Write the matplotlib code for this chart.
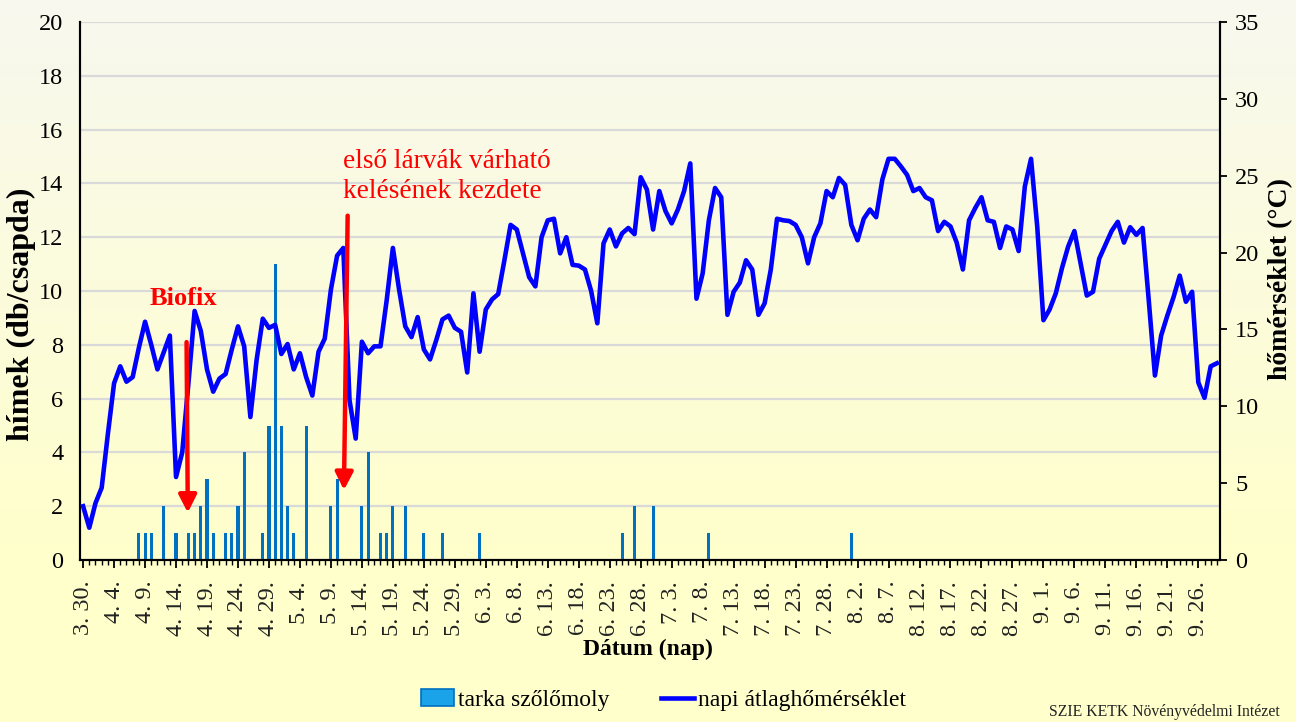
import matplotlib
matplotlib.use("Agg")
import matplotlib.pyplot as plt
import numpy as np
import datetime as dt
from matplotlib.patches import Patch
from matplotlib.lines import Line2D

# ---------------- data ----------------
start_date = dt.date(2000, 3, 30)
n_days = 184
day_labels = [f"{d.month}. {d.day}." for d in
              (start_date + dt.timedelta(days=i) for i in range(n_days))]

# daily mean temperature (°C), 3.30. - 9.29.
temperature = [
    3.5, 2.1, 3.7, 4.7, 8.2, 11.5, 12.6, 11.6, 11.9, 13.8,
    15.5, 14.0, 12.4, 13.5, 14.6, 5.4, 7.0, 11.5, 16.2, 14.9,
    12.4, 10.95, 11.8, 12.1, 13.7, 15.2, 13.9, 9.3, 13.0, 15.7,
    15.1, 15.3, 13.4, 14.05, 12.4, 13.45, 11.9, 10.7, 13.55, 14.4,
    17.6, 19.8, 20.3, 10.4, 7.9, 14.2, 13.45, 13.9, 13.9, 16.9,
    20.3, 17.6, 15.2, 14.5, 15.8, 13.7, 13.05, 14.3, 15.65, 15.9,
    15.1, 14.85, 12.2, 17.35, 13.55, 16.3, 16.95, 17.3, 19.5, 21.8,
    21.5, 19.95, 18.4, 17.8, 21.0, 22.1, 22.2, 19.95, 21.0, 19.2,
    19.15, 18.9, 17.5, 15.4, 20.6, 21.5, 20.4, 21.25, 21.6, 21.2,
    24.9, 24.1, 21.5, 24.0, 22.7, 21.9, 22.8, 24.0, 25.8, 17.0,
    18.65, 22.1, 24.2, 23.6, 15.95, 17.45, 18.05, 19.5, 18.9, 15.95,
    16.7, 18.9, 22.2, 22.1, 22.05, 21.8, 21.0, 19.3, 21.0, 21.9,
    24.0, 23.6, 24.85, 24.4, 21.8, 20.8, 22.2, 22.8, 22.3, 24.75,
    26.1, 26.1, 25.6, 25.05, 24.0, 24.2, 23.6, 23.4, 21.4, 22.0,
    21.7, 20.65, 18.9, 22.1, 22.9, 23.6, 22.1, 22.0, 20.3, 21.7,
    21.5, 20.1, 24.3, 26.1, 21.7, 15.6, 16.3, 17.35, 19.0, 20.4,
    21.4, 19.3, 17.2, 17.45, 19.6, 20.5, 21.4, 22.0, 20.65, 21.65,
    21.15, 21.6, 16.9, 12.0, 14.6, 15.9, 17.1, 18.5, 16.8, 17.45,
    11.55, 10.55, 12.6, 12.8,
]

# trap catches (males / trap)
catch_dates = ["4. 8.", "4. 9.", "4. 10.", "4. 12.", "4. 14.", "4. 16.", "4. 17.",
               "4. 18.", "4. 19.", "4. 20.", "4. 22.", "4. 23.", "4. 24.", "4. 25.",
               "4. 28.", "4. 29.", "4. 30.", "5. 1.", "5. 2.", "5. 3.", "5. 5.",
               "5. 9.", "5. 10.", "5. 14.", "5. 15.", "5. 17.", "5. 18.", "5. 19.",
               "5. 21.", "5. 24.", "5. 27.", "6. 2.", "6. 25.", "6. 27.", "6. 30.",
               "7. 9.", "8. 1."]
catch_counts = [1, 1, 1, 2, 1, 1, 1,
                2, 3, 1, 1, 1, 2, 4,
                1, 5, 11, 5, 2, 1, 5,
                2, 3, 2, 4, 1, 1, 2,
                2, 1, 1, 1, 1, 2, 2,
                1, 1]

left_ticks = list(range(0, 21, 2))
right_ticks = list(range(0, 36, 5))

# ---------------- figure ----------------
FONT = "Liberation Serif"
plt.rcParams["font.family"] = [FONT, "DejaVu Serif"]

W, H = 1296, 722
fig = plt.figure(figsize=(W / 100, H / 100), dpi=100)
fig.patch.set_facecolor("#FFFFCC")

# background gradient
bg = fig.add_axes([0, 0, 1, 1], zorder=-10)
top_c = np.array([0xF8, 0xF8, 0xEF]) / 255
bot_c = np.array([0xFF, 0xFF, 0xCC]) / 255
t = np.clip(np.linspace(0, 1, 300) / 0.75, 0, 1)[:, None]
grad = top_c[None, :] * (1 - t) + bot_c[None, :] * t
bg.imshow(grad[:, None, :], aspect="auto", extent=[0, 1, 0, 1], origin="upper")
bg.set_axis_off()

L, R = 80 / W, 1220 / W
B, T = 1 - 560 / H, 1 - 22 / H
ax = fig.add_axes([L, B, R - L, T - B])
ax.set_facecolor("none")
ax2 = ax.twinx()

x = np.arange(n_days)
bar_x = [day_labels.index(d) for d in catch_dates]
ax.bar(bar_x, catch_counts, width=0.5, color="#0070C0", zorder=3)
ax2.plot(x, temperature, color="#0000FF", lw=3.3, solid_joinstyle="round", zorder=4)

ax.set_xlim(-0.5, n_days - 0.5)
ax.set_ylim(0, 20)
ax2.set_ylim(0, 35)
ax.set_yticks(left_ticks)
ax2.set_yticks(right_ticks)
ax.yaxis.grid(True, color="#D9D9D9", lw=1.6)
ax.set_axisbelow(True)

ax.set_xticks(x[::5])
ax.set_xticklabels(day_labels[::5], rotation=90, fontsize=17.5, va="top", ha="center",
                   color="#222222")
ax.set_xticks(x, minor=True)
ax.tick_params(axis="x", which="major", length=6, width=1.3, direction="out", pad=9)
ax.tick_params(axis="x", which="minor", length=3.5, width=1.0, direction="out")
ax.tick_params(axis="y", length=0, labelsize=17.5, pad=12)
ax2.tick_params(axis="y", length=5, width=1.3, direction="out", labelsize=17.5, pad=6)

for a in (ax, ax2):
    a.spines["top"].set_visible(False)
    for s in ("left", "right", "bottom"):
        a.spines[s].set_color("black")
        a.spines[s].set_linewidth(1.5)

fig.text(21 / W, 1 - 314 / H, "hímek (db/csapda)", fontsize=23, fontweight="bold",
         rotation=90, ha="center", va="center")
fig.text(1281 / W, 1 - 279 / H, "hőmérséklet (°C)", fontsize=20, fontweight="bold",
         rotation=90, ha="center", va="center")
fig.text(648 / W, 1 - 649 / H, "Dátum (nap)", fontsize=17, fontweight="bold",
         ha="center", va="center")

# annotations
arrow_kw = dict(arrowstyle="-|>,head_length=0.55,head_width=0.28", color="#FF0000",
                lw=3.2, mutation_scale=19, shrinkA=0, shrinkB=0)
ax2.annotate("", xy=(16.9, 1.76), xytext=(16.7, 8.1),
             xycoords=ax.transData, textcoords=ax.transData, arrowprops=arrow_kw,
             zorder=6)
ax2.annotate("", xy=(42.1, 2.6), xytext=(42.7, 12.8),
             xycoords=ax.transData, textcoords=ax.transData, arrowprops=arrow_kw,
             zorder=6)
fig.text(183 / W, 1 - 298 / H, "Biofix", color="#FF0000", fontsize=19,
         fontweight="bold", ha="center", va="center")
fig.text(343 / W, 1 - 161 / H, "első lárvák várható",
         color="#FF0000", fontsize=19.6, ha="left", va="center")
fig.text(343 / W, 1 - 191 / H, "kelésének kezdete",
         color="#FF0000", fontsize=19.6, ha="left", va="center")

# legend
handles = [Patch(facecolor="#1AA3E8", edgecolor="#0070C0", lw=1.2),
           Line2D([0], [0], color="#0000FF", lw=3.3)]
fig.legend(handles, ["tarka szőlőmoly", "napi átlaghőmérséklet"], loc="center",
           bbox_to_anchor=(0.512, 1 - 700 / H), ncol=2, frameon=False, fontsize=17,
           handlelength=1.4, handletextpad=0.15, columnspacing=2.2)

fig.text(1280 / W, 2 / H, "SZIE KETK Növényvédelmi Intézet", fontsize=11.3,
         ha="right", va="bottom", color="#222222")

fig.savefig("out.png", dpi=100, facecolor=fig.get_facecolor())
